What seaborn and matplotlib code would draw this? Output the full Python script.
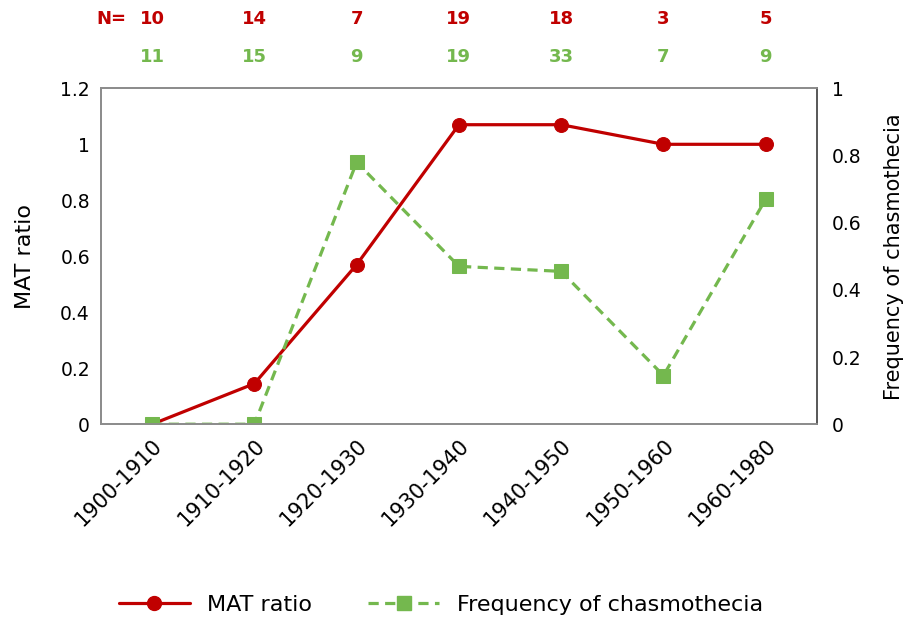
import pandas as pd
import seaborn as sns
import matplotlib.pyplot as plt
from matplotlib.lines import Line2D
from matplotlib.ticker import FuncFormatter
import matplotlib.transforms as mtransforms


# ----------------- Data -----------------
periods = ["1900-1910", "1910-1920", "1920-1930", "1930-1940",
           "1940-1950", "1950-1960", "1960-1980"]
mat_ratio = [0.0, 0.145, 0.57, 1.07, 1.07, 1.0, 1.0]
chasmo_freq = [0.0, 0.0, 0.78, 0.47, 0.455, 0.145, 0.67]
n_mat = [10, 14, 7, 19, 18, 3, 5]
n_chasmo = [11, 15, 9, 19, 33, 7, 9]

RED = "#C00000"
GREEN = "#74B84E"

df = pd.DataFrame({"period": periods, "mat": mat_ratio, "freq": chasmo_freq})
df["period"] = pd.Categorical(df["period"], categories=periods, ordered=True)
df["x"] = df["period"].cat.codes

sns.set_style("white")
plt.rcParams["font.family"] = ["DejaVu Sans"]
plt.rcParams["text.color"] = "black"
plt.rcParams["xtick.color"] = "black"
plt.rcParams["ytick.color"] = "black"
plt.rcParams["axes.labelcolor"] = "black"

fig = plt.figure(figsize=(9.05, 6.22), dpi=100)
ax = fig.add_axes([0.1116, 0.318, 0.791, 0.540])
ax2 = ax.twinx()

dash = (0, (3.2, 2.0))
sns.lineplot(data=df, x="x", y="mat", ax=ax, color=RED, lw=2.3,
             marker="o", markersize=10, markeredgecolor=RED, legend=False)
sns.lineplot(data=df, x="x", y="freq", ax=ax2, color=GREEN, lw=2.3,
             linestyle=dash, marker="s", markersize=10,
             markeredgecolor=GREEN, legend=False)

ax.set_xlim(-0.5, len(periods) - 0.5)
ax.set_ylim(0, 1.2)
ax2.set_ylim(0, 1)
ax.set_yticks([0, 0.2, 0.4, 0.6, 0.8, 1.0, 1.2])
ax2.set_yticks([0, 0.2, 0.4, 0.6, 0.8, 1.0])
fmt = FuncFormatter(lambda v, p: f"{v:g}")
ax.yaxis.set_major_formatter(fmt)
ax2.yaxis.set_major_formatter(fmt)

ax.set_xticks(range(len(periods)))
ax.set_xticklabels(periods, rotation=45, ha="right", rotation_mode="anchor",
                   fontsize=15)
ax.set_xlabel("")
ax.set_ylabel("MAT ratio", fontsize=16, labelpad=18)
ax2.set_ylabel("Frequency of chasmothecia", fontsize=15, labelpad=16)
ax.tick_params(axis="y", length=0, labelsize=13.5, pad=8)
ax.tick_params(axis="x", length=0, pad=8)
ax2.tick_params(axis="y", length=0, labelsize=13.5, pad=11)

for a in (ax, ax2):
    for s in a.spines.values():
        s.set_color("#8C8C8C")
        s.set_linewidth(1.3)
ax2.spines["right"].set_color("#555555")

# sample sizes above plot
trans = mtransforms.blended_transform_factory(ax.transData, fig.transFigure)
narrow = ["Liberation Sans Narrow", "DejaVu Sans Condensed", "DejaVu Sans"]
ax.text(-0.4, 1 - 19 / 622, "N=", transform=trans, color=RED, fontsize=13,
        fontweight="bold", ha="center", va="center", family=narrow)
for i, (a, b) in enumerate(zip(n_mat, n_chasmo)):
    ax.text(i, 1 - 19 / 622, str(a), transform=trans, color=RED, fontsize=13,
            fontweight="bold", ha="center", va="center", family=narrow)
    ax.text(i, 1 - 57 / 622, str(b), transform=trans, color=GREEN, fontsize=13,
            fontweight="bold", ha="center", va="center", family=narrow)

handles = [
    Line2D([], [], color=RED, lw=2.3, marker="o", markersize=10),
    Line2D([], [], color=GREEN, lw=2.3, linestyle=dash,
           marker="s", markersize=10),
]
fig.legend(handles, ["MAT ratio", "Frequency of chasmothecia"],
           loc="center", bbox_to_anchor=(0.487, 1 - 605 / 622), ncol=2,
           frameon=False, fontsize=16, handlelength=3.2, handletextpad=0.8,
           columnspacing=2.5)

fig.savefig("out.png", dpi=100)
